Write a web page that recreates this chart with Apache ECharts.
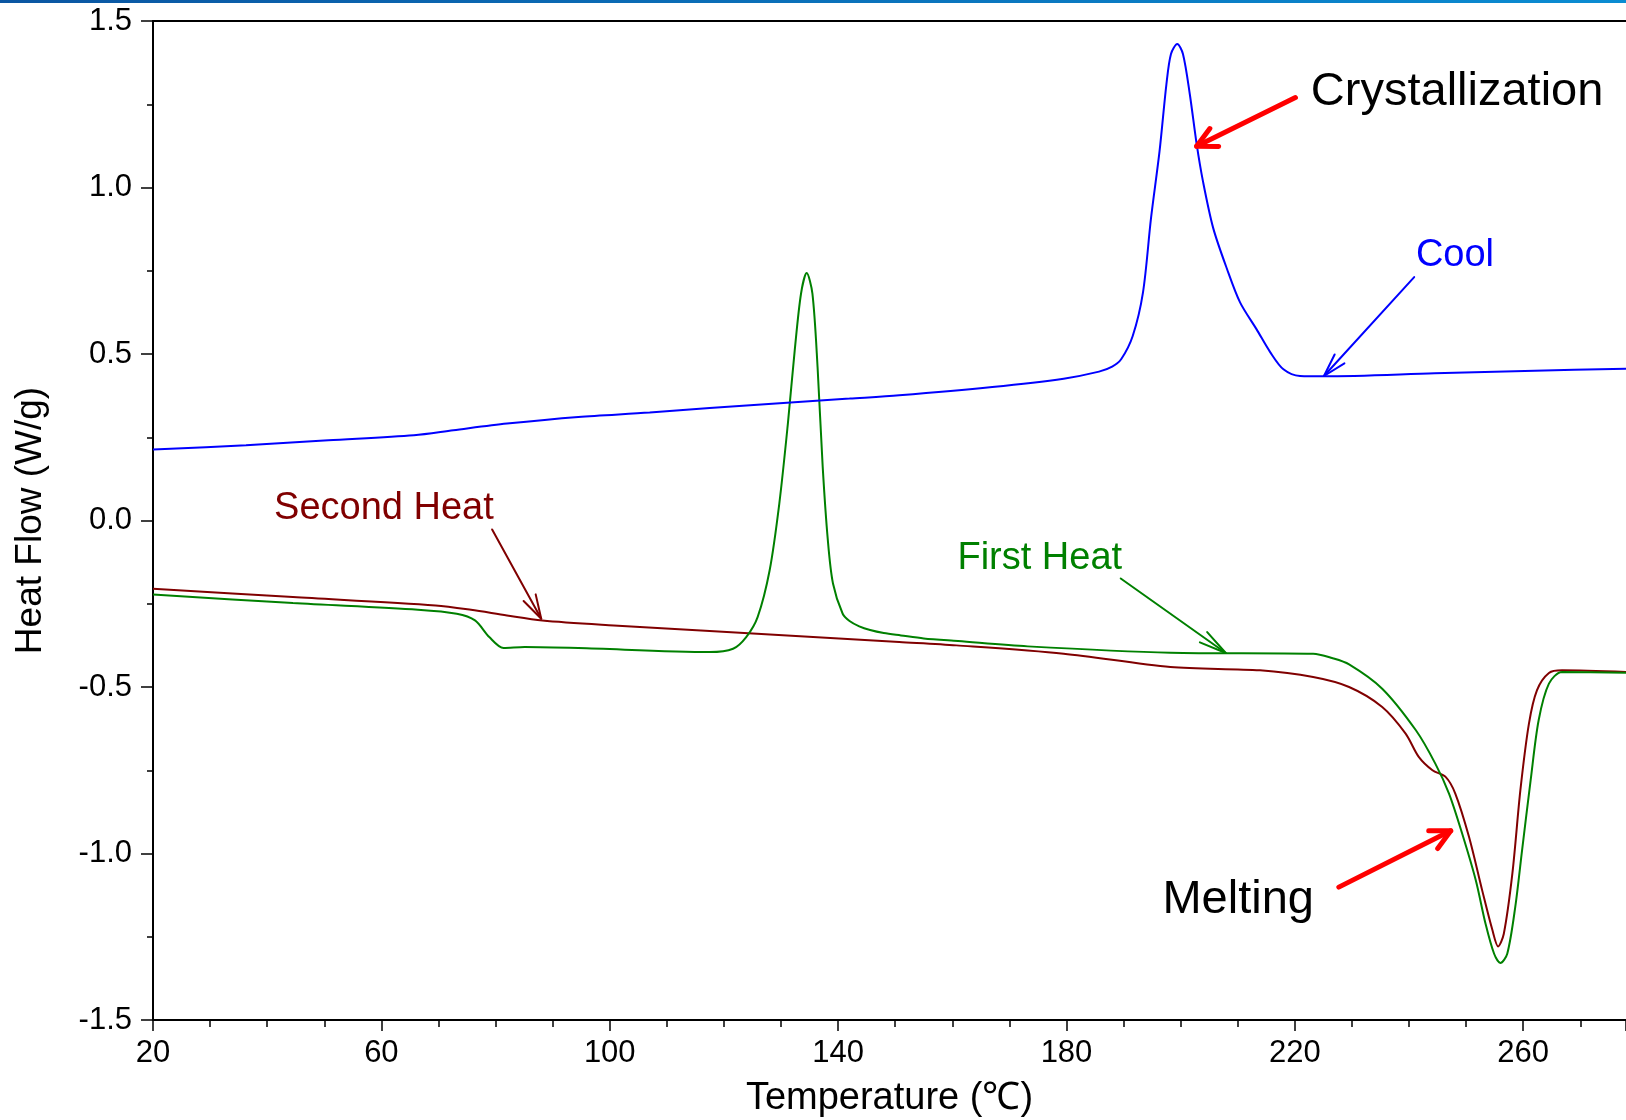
<!DOCTYPE html>
<html>
<head>
<meta charset="utf-8">
<title>DSC Heat Flow</title>
<script src="https://cdn.jsdelivr.net/npm/echarts@6/dist/echarts.min.js"></script>
<style>
  html, body { margin: 0; padding: 0; background: #ffffff; }
  #chart { width: 1626px; height: 1120px; }
</style>
</head>
<body>
<div id="chart"></div>
<script>
// DSC thermogram: temperature (°C) vs heat flow (W/g)
const coolCurve = [
  [20, 0.213], [36.3, 0.226], [50.7, 0.241], [65.7, 0.256], [72.6, 0.271],
  [82.0, 0.291], [94.5, 0.311], [107.0, 0.324], [117.5, 0.338], [142.0, 0.366],
  [150.7, 0.376], [167.0, 0.401], [179.5, 0.426], [185.7, 0.447], [188.0, 0.462],
  [189.6, 0.485], [191.6, 0.554], [193.4, 0.685], [194.8, 0.907], [196.3, 1.109],
  [197.5, 1.310], [198.3, 1.401], [199.4, 1.431], [200.4, 1.401], [201.6, 1.280],
  [202.8, 1.130], [203.9, 1.019], [205.7, 0.878], [208.1, 0.756], [210.4, 0.655],
  [213.3, 0.574], [215.7, 0.505], [218.0, 0.454], [220.9, 0.434], [225.1, 0.433],
  [244.5, 0.442], [262.0, 0.450], [278.0, 0.456]
];

const firstHeatCurve = [
  [20, -0.222], [44.5, -0.248], [66.4, -0.268], [73.2, -0.280], [76.4, -0.300],
  [78.9, -0.350], [81.4, -0.383], [85.1, -0.380], [94.5, -0.383], [117.5, -0.395],
  [121.6, -0.385], [123.9, -0.350], [125.9, -0.290], [128.0, -0.150], [129.7, 0.051],
  [131.2, 0.291], [132.4, 0.511], [133.5, 0.681], [134.5, 0.743], [135.5, 0.681],
  [136.4, 0.461], [137.3, 0.161], [138.2, -0.059], [139.1, -0.189], [140.8, -0.280],
  [142.0, -0.302], [143.7, -0.318], [145.6, -0.329], [148.0, -0.338], [151.0, -0.345],
  [155.0, -0.354], [161.0, -0.362], [173.2, -0.378], [198.2, -0.397], [223.2, -0.400],
  [226.5, -0.413], [229.5, -0.432], [235.3, -0.505], [241.2, -0.630], [244.6, -0.730],
  [247.0, -0.820], [249.3, -0.940], [251.7, -1.081], [253.4, -1.211], [254.9, -1.301],
  [256.0, -1.329], [257.2, -1.301], [258.6, -1.161], [259.8, -0.990], [261.3, -0.780],
  [262.7, -0.600], [264.5, -0.490], [266.8, -0.455], [278.0, -0.457]
];

const secondHeatCurve = [
  [20, -0.205], [44.5, -0.230], [69.5, -0.255], [75.7, -0.268], [82.0, -0.285],
  [88.2, -0.300], [100.7, -0.315], [117.5, -0.332], [150.7, -0.365], [160.7, -0.375],
  [179.5, -0.400], [198.2, -0.440], [213.9, -0.450], [223.2, -0.470], [229.5, -0.500],
  [235.3, -0.560], [239.4, -0.640], [241.7, -0.710], [244.1, -0.750], [246.4, -0.770],
  [248.1, -0.820], [250.5, -0.950], [252.8, -1.110], [254.6, -1.230], [255.6, -1.279],
  [256.6, -1.241], [258.1, -1.060], [259.5, -0.810], [261.0, -0.610], [262.4, -0.510],
  [264.5, -0.458], [266.8, -0.450], [278.0, -0.455]
];

// Callout labels with arrows, anchored in data units: [temperature, heat flow]
const calloutTexts = ['Crystallization', 'Cool', 'Second Heat', 'First Heat', 'Melting'];
const calloutTextAt = [[222.8, 1.287], [241.2, 0.795], [41.2, 0.037], [160.9, -0.114], [196.8, -1.139]];
const calloutTails  = [[220.1, 1.270], [240.9, 0.731], [79.4, -0.027], [189.5, -0.174], [227.7, -1.101]];
const calloutTips   = [[202.8, 1.124], [225.1, 0.434], [88.0, -0.295], [207.9, -0.398], [247.3, -0.932]];

const FONT = "'Liberation Sans', Arial, Helvetica, sans-serif";
const BLUE = '#0000ff', GREEN = '#008000', MAROON = '#800000', RED = '#ff0000';

// drawing style per callout
const calloutStyle = [
  { color: '#000000', arrow: RED,    size: 47, lw: 5, head: 22, half: 27 },
  { color: BLUE,      arrow: BLUE,   size: 38, lw: 2, head: 24, half: 16 },
  { color: MAROON,    arrow: MAROON, size: 38, lw: 2, head: 25, half: 16 },
  { color: GREEN,     arrow: GREEN,  size: 38, lw: 2, head: 28, half: 13 },
  { color: '#000000', arrow: RED,    size: 47, lw: 5, head: 22, half: 27 }
];

const chart = echarts.init(document.getElementById('chart'), null, { renderer: 'canvas' });

const lineSeries = (name, data, color) => ({
  name, type: 'line', data, showSymbol: false, symbol: 'none',
  smooth: 0.3,
  lineStyle: { color, width: 2 }, z: 3
});

const option = {
  animation: false,
  backgroundColor: '#ffffff',
  grid: { left: 153, right: 0, top: 21, bottom: 100, containLabel: false, outerBoundsMode: 'none' },
  xAxis: [{
    type: 'value', min: 20, max: 278, interval: 40,
    name: 'Temperature (\u2103)', nameLocation: 'middle', nameGap: 60,
    nameTextStyle: { fontFamily: FONT, fontSize: 38, color: '#000' },
    axisLine: { show: true, onZero: false, lineStyle: { color: '#000', width: 2 } },
    axisTick: { show: true, inside: false, length: 11, lineStyle: { color: '#000', width: 1.5 } },
    minorTick: { show: true, splitNumber: 4, length: 7, lineStyle: { color: '#000', width: 1.5 } },
    axisLabel: { fontFamily: FONT, fontSize: 31, color: '#000', margin: 18, showMaxLabel: false },
    splitLine: { show: false }, minorSplitLine: { show: false }
  }, {
    type: 'value', position: 'top', min: 20, max: 278,
    axisLine: { show: true, onZero: false, lineStyle: { color: '#000', width: 2 } },
    axisTick: { show: false }, axisLabel: { show: false }, splitLine: { show: false }
  }],
  yAxis: {
    type: 'value', min: -1.5, max: 1.5, interval: 0.5,
    name: 'Heat Flow (W/g)', nameLocation: 'middle', nameGap: 104, nameRotate: 90,
    nameTextStyle: { fontFamily: FONT, fontSize: 37, color: '#000' },
    axisLine: { show: true, onZero: false, lineStyle: { color: '#000', width: 2 } },
    axisTick: { show: true, inside: false, length: 12, lineStyle: { color: '#000', width: 1.5 } },
    minorTick: { show: true, splitNumber: 2, length: 6, lineStyle: { color: '#000', width: 1.5 } },
    axisLabel: { fontFamily: FONT, fontSize: 31, color: '#000', margin: 21,
      formatter: v => v.toFixed(1) },
    splitLine: { show: false }, minorSplitLine: { show: false }
  },
  series: [
    lineSeries('Second Heat', secondHeatCurve, MAROON),
    lineSeries('First Heat', firstHeatCurve, GREEN),
    lineSeries('Cool', coolCurve, BLUE)
  ]
};

chart.setOption(option);

// Build header band and callouts in pixel space from the data anchors
const toPx = p => chart.convertToPixel({ xAxisIndex: 0, yAxisIndex: 0 }, p);
const graphics = [{
  type: 'rect', left: 0, top: 0, z: 10,
  shape: { width: 1626, height: 3 },
  style: { fill: new echarts.graphic.LinearGradient(0, 0, 1, 0, [
    { offset: 0, color: '#0a56a2' }, { offset: 1, color: '#0a8cd2' }
  ]) }
}];

calloutTexts.forEach((label, i) => {
  const s = calloutStyle[i];
  const t = toPx(calloutTextAt[i]);
  const a = toPx(calloutTails[i]);
  const b = toPx(calloutTips[i]);
  const ang = Math.atan2(a[1] - b[1], a[0] - b[0]);
  const h = s.half * Math.PI / 180;
  const w1 = [b[0] + s.head * Math.cos(ang + h), b[1] + s.head * Math.sin(ang + h)];
  const w2 = [b[0] + s.head * Math.cos(ang - h), b[1] + s.head * Math.sin(ang - h)];
  graphics.push({
    type: 'line', z: 20,
    shape: { x1: a[0], y1: a[1], x2: b[0], y2: b[1] },
    style: { stroke: s.arrow, lineWidth: s.lw, lineCap: 'round' }
  });
  graphics.push({
    type: 'polyline', z: 20,
    shape: { points: [w1, b, w2] },
    style: { stroke: s.arrow, lineWidth: s.lw, lineCap: 'round', lineJoin: 'round', fill: 'none' }
  });
  graphics.push({
    type: 'text', z: 21, x: t[0], y: t[1],
    style: { text: label, fill: s.color, fontFamily: FONT, fontSize: s.size,
      align: 'left', verticalAlign: 'middle' }
  });
});

chart.setOption({ graphic: graphics });
</script>
</body>
</html>
